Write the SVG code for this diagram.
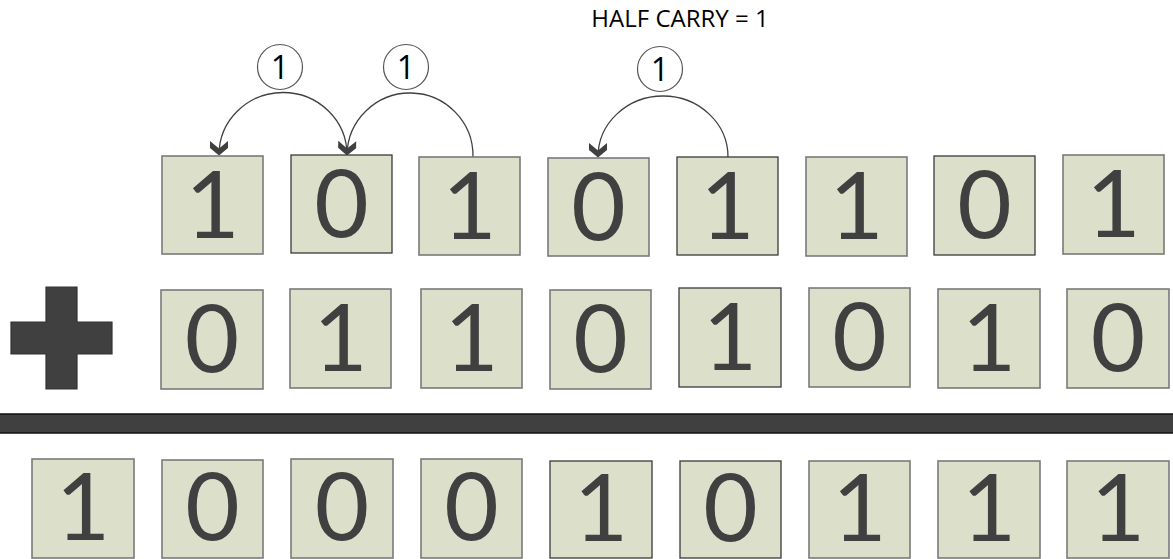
<svg xmlns="http://www.w3.org/2000/svg" width="1173" height="559" viewBox="0 0 1173 559">
<defs>
<style>
.box{fill:#dce0cb;stroke:#7a7a7a;stroke-width:1.6}
.dk{stroke:#3a3a3a;stroke-width:1.3}
.dg{font-family:Lato,"DejaVu Sans",sans-serif;font-size:94px;fill:#404040;text-anchor:middle}
.arc{fill:none;stroke:#404040;stroke-width:1.3}
.cc{fill:#fff;stroke:#555;stroke-width:1.2}
.ct{font-family:"Open Sans","Liberation Sans",sans-serif;font-size:32px;fill:#000;text-anchor:middle}
.ht{font-family:"Open Sans","Liberation Sans",sans-serif;font-size:24px;fill:#000;text-anchor:middle}
</style>
<marker id="chev" markerUnits="userSpaceOnUse" viewBox="-15 -10 16 20" refX="0" refY="0" markerWidth="16" markerHeight="20" orient="auto">
<polygon points="-14,-9 -6.5,0 -14,9 -7,9 0.5,0 -7,-9" fill="#404040"/>
</marker>
</defs>
<rect width="1173" height="559" fill="#fff"/>
<text class="ht" x="680" y="27">HALF CARRY = 1</text>

<g id="connectors">
<path class="arc" d="M 347 155 A 63.5 62 0 0 0 219 155" marker-end="url(#chev)"/>
<path class="arc" d="M 473 157 A 63 63 0 0 0 347 155" marker-end="url(#chev)"/>
<path class="arc" d="M 728 157 A 65 61 0 0 0 598 157" marker-end="url(#chev)"/>
</g>

<g id="carry1"><circle class="cc" cx="280" cy="67" r="22.5"/><text class="ct" x="280" y="79">1</text></g>
<g id="carry2"><circle class="cc" cx="406" cy="67" r="22.5"/><text class="ct" x="406" y="79">1</text></g>
<g id="carry3"><circle class="cc" cx="660" cy="69" r="22.5"/><text class="ct" x="660" y="81">1</text></g>

<g id="row1">
<g id="a7"><rect class="box" x="162" y="156" width="101" height="98"/><text class="dg" x="212.5" y="238">1</text></g>
<g id="a6"><rect class="box dk" x="291" y="155" width="101" height="98"/><text class="dg" x="341.5" y="237">0</text></g>
<g id="a5"><rect class="box" x="419" y="157" width="101" height="98"/><text class="dg" x="469.5" y="239">1</text></g>
<g id="a4"><rect class="box" x="548" y="158" width="101" height="98"/><text class="dg" x="598.5" y="240">0</text></g>
<g id="a3"><rect class="box dk" x="677" y="157" width="101" height="98"/><text class="dg" x="727.5" y="239">1</text></g>
<g id="a2"><rect class="box" x="806" y="157" width="101" height="99"/><text class="dg" x="856.5" y="239">1</text></g>
<g id="a1"><rect class="box dk" x="934" y="156" width="101" height="99"/><text class="dg" x="984.5" y="238">0</text></g>
<g id="a0"><rect class="box" x="1063" y="155" width="101" height="99"/><text class="dg" x="1113.5" y="237">1</text></g>
</g>

<g id="plus"><polygon points="46,287 77,287 77,322 112,322 112,354 77,354 77,389 46,389 46,354 11,354 11,322 46,322" fill="#404040" stroke="#333" stroke-width="1.2"/></g>

<g id="row2">
<g id="b7"><rect class="box" x="161" y="290" width="102" height="99"/><text class="dg" x="212" y="372">0</text></g>
<g id="b6"><rect class="box" x="290" y="289" width="101" height="99"/><text class="dg" x="340.5" y="371">1</text></g>
<g id="b5"><rect class="box" x="421" y="289" width="101" height="99"/><text class="dg" x="471.5" y="371">1</text></g>
<g id="b4"><rect class="box" x="550" y="290" width="101" height="99"/><text class="dg" x="600.5" y="372">0</text></g>
<g id="b3"><rect class="box dk" x="679" y="288" width="102" height="99"/><text class="dg" x="730" y="370">1</text></g>
<g id="b2"><rect class="box" x="809" y="288" width="101" height="99"/><text class="dg" x="859.5" y="370">0</text></g>
<g id="b1"><rect class="box" x="938" y="289" width="102" height="99"/><text class="dg" x="989" y="371">1</text></g>
<g id="b0"><rect class="box" x="1067" y="289" width="102" height="99"/><text class="dg" x="1118" y="371">0</text></g>
</g>

<g id="bar"><rect x="-2" y="414" width="1177" height="19" fill="#404040" stroke="#111" stroke-width="1.5"/></g>

<g id="row3">
<g id="s8"><rect class="box" x="32" y="459" width="102" height="99"/><text class="dg" x="83" y="540">1</text></g>
<g id="s7"><rect class="box" x="162" y="460" width="101" height="98"/><text class="dg" x="212.5" y="540">0</text></g>
<g id="s6"><rect class="box" x="291" y="459" width="102" height="99"/><text class="dg" x="342" y="540">0</text></g>
<g id="s5"><rect class="box" x="421" y="459" width="101" height="99"/><text class="dg" x="471.5" y="540">0</text></g>
<g id="s4"><rect class="box dk" x="550" y="461" width="102" height="97"/><text class="dg" x="601" y="541">1</text></g>
<g id="s3"><rect class="box dk" x="680" y="461" width="101" height="97"/><text class="dg" x="730.5" y="541">0</text></g>
<g id="s2"><rect class="box" x="809" y="461" width="101" height="97"/><text class="dg" x="859.5" y="541">1</text></g>
<g id="s1"><rect class="box" x="938" y="461" width="102" height="97"/><text class="dg" x="989" y="541">1</text></g>
<g id="s0"><rect class="box" x="1067" y="461" width="102" height="97"/><text class="dg" x="1118" y="541">1</text></g>
</g>
</svg>
